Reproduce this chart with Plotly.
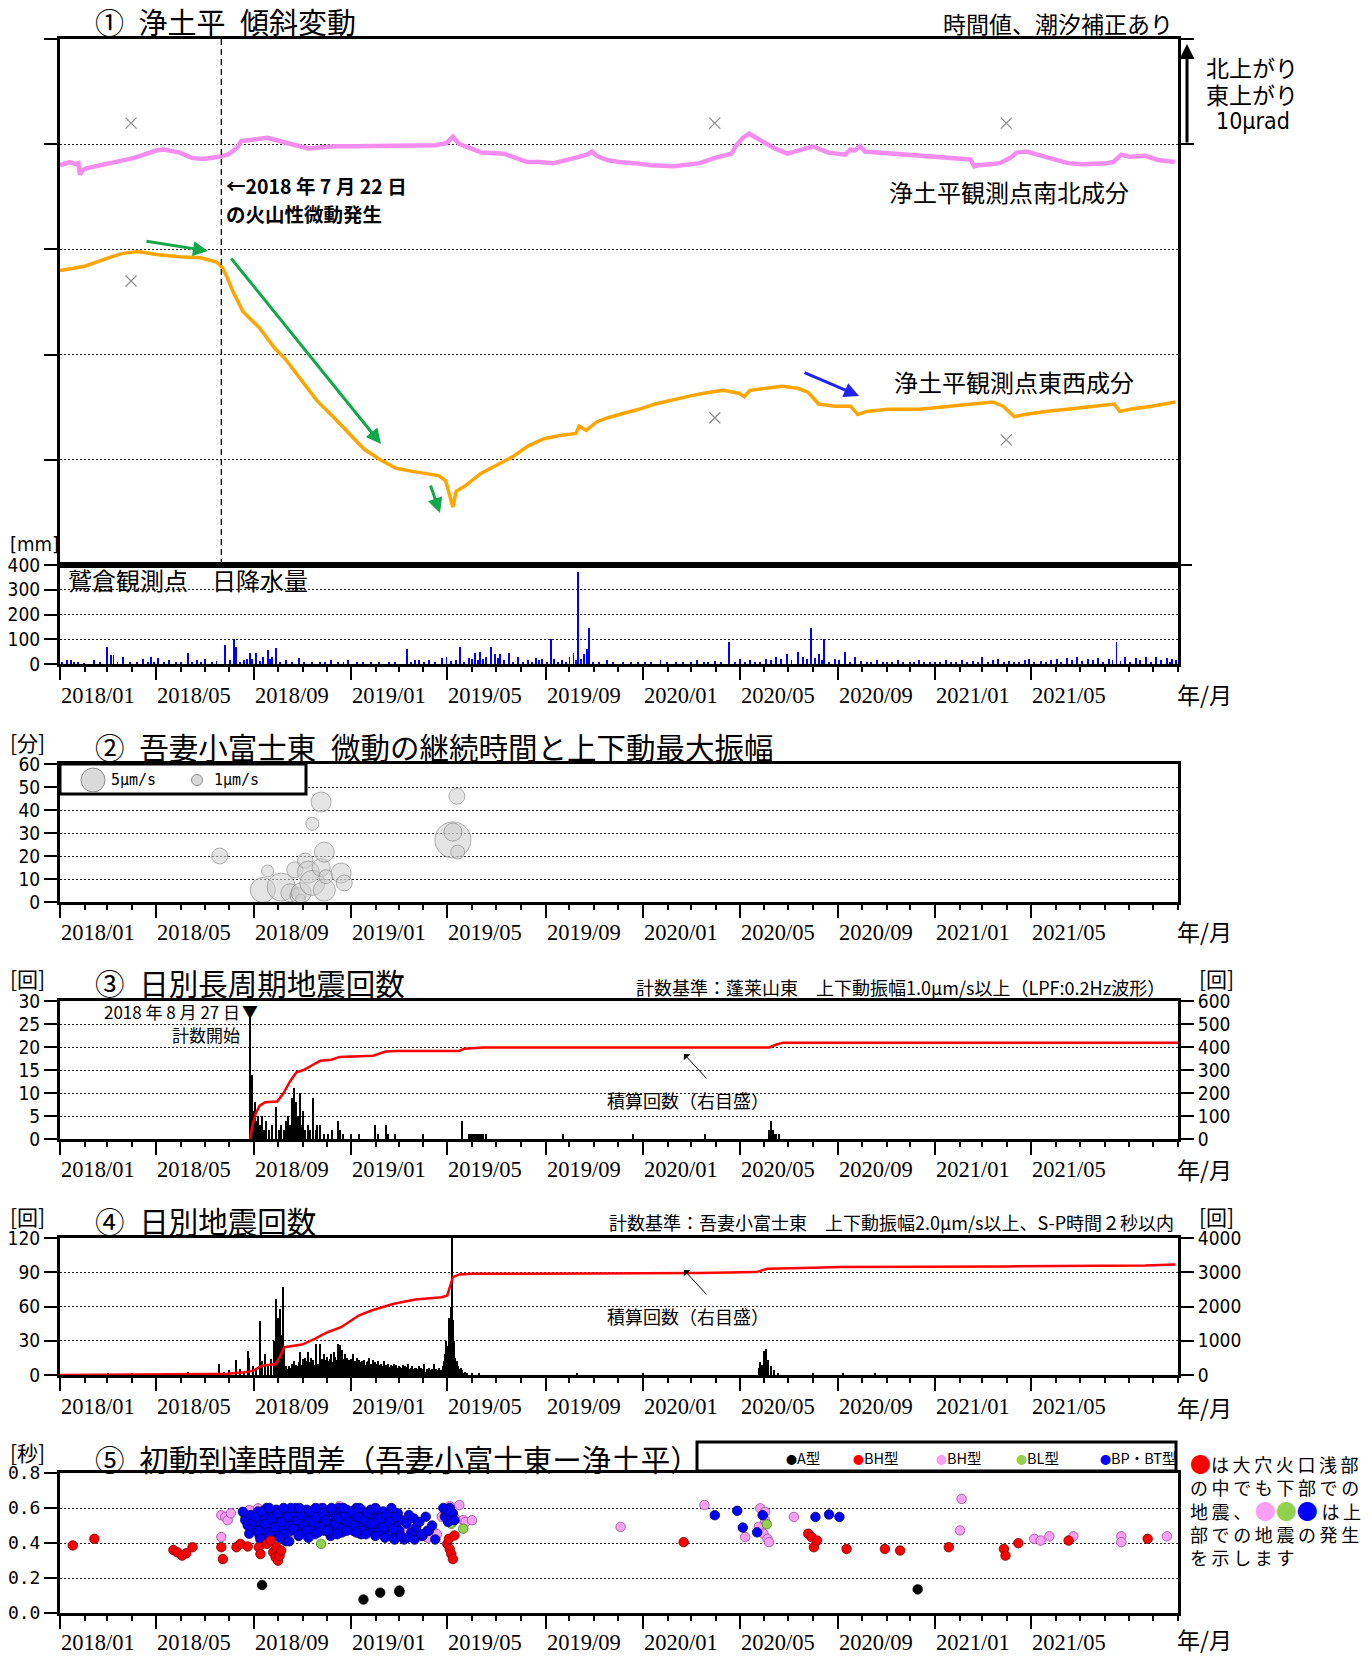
import plotly.graph_objects as go
import pandas as pd

BASE = pd.Timestamp("2018-01-01")
X_RANGE = ["2018-01-01", "2021-11-01"]
TICK_DATES = ["2018-01-01", "2018-05-01", "2018-09-01", "2019-01-01", "2019-05-01", "2019-09-01",
              "2020-01-01", "2020-05-01", "2020-09-01", "2021-01-01", "2021-05-01", "2021-09-01"]
TICK_TEXT = ["2018/01", "2018/05", "2018/09", "2019/01", "2019/05", "2019/09",
             "2020/01", "2020/05", "2020/09", "2021/01", "2021/05", ""]

# ---------------- data (x = days since 2018-01-01) ----------------
# (1) tilt, microradian on a 0-50 display scale
ns_pts = [(0,38.0),(12,38.3),(20,38.1),(23,38.2),(25,37.1),(28,37.5),(33,37.7),(45,37.9),(55,38.1),(65,38.2),
          (80,38.5),(93,38.7),(105,39.0),(120,39.4),(130,39.5),(143,39.3),(150,39.2),(165,38.7),(180,38.6),
          (199,38.8),(210,39.0),(216,39.3),(222,39.7),(227,40.3),(240,40.4),(250,40.5),(260,40.6),(270,40.4),
          (283,40.1),(290,40.0),(300,39.8),(311,39.6),(325,39.7),(344,39.8),(370,39.8),(400,39.8),(430,39.8),
          (456,39.8),(470,39.9),(484,40.1),(492,40.7),(500,40.0),(512,39.7),(528,39.2),(556,39.1),(570,38.7),
          (585,38.3),(600,38.3),(618,38.2),(640,38.6),(652,38.8),(660,39.0),(666,39.3),(672,38.9),(685,38.5),
          (700,38.3),(719,38.2),(740,38.0),(769,37.9),(785,38.1),(801,38.2),(820,38.7),(841,39.1),(846,39.8),
          (855,40.6),(863,41.0),(872,40.6),(882,40.1),(895,39.6),(911,39.1),(925,39.4),(943,39.8),(952,39.5),
          (962,39.2),(983,39.0),(990,39.5),(995,39.4),(1002,39.8),(1008,39.3),(1025,39.2),(1043,39.1),
          (1070,38.9),(1096,38.75),(1120,38.6),(1140,38.55),(1145,37.9),(1150,38.0),(1165,38.1),(1177,38.2),
          (1190,38.7),(1198,39.2),(1210,39.3),(1225,39.0),(1245,38.6),(1262,38.2),(1280,38.1),(1295,38.1),
          (1310,38.2),(1319,38.3),(1329,39.0),(1340,38.8),(1350,38.8),(1359,38.9),(1375,38.5),(1385,38.4),
          (1396,38.3)]
ew_pts = [(0,28.0),(31,28.4),(57,29.1),(77,29.6),(97,29.8),(123,29.5),(150,29.3),(176,29.2),(196,28.8),
          (203,28.3),(209,27.4),(216,26.1),(229,24.1),(249,22.6),(269,20.6),(282,19.6),(302,17.6),(322,15.6),
          (342,14.1),(361,12.6),(381,11.0),(401,10.0),(421,9.2),(441,8.9),(461,8.7),(474,8.5),(483,8.0),
          (488,6.5),(492,5.5),(496,7.0),(507,7.5),(527,8.7),(547,9.5),(567,10.3),(586,11.3),(606,12.0),
          (626,12.3),(646,12.5),(650,13.2),(659,12.8),(672,13.6),(686,14.0),(705,14.4),(725,14.8),(745,15.3),
          (771,15.8),(791,16.1),(811,16.4),(831,16.6),(851,16.3),(857,16.0),(864,16.6),(884,16.8),(904,17.0),
          (924,16.8),(937,16.4),(950,15.3),(970,15.1),(990,15.1),(999,14.3),(1010,14.6),(1036,14.8),
          (1076,14.8),(1115,15.1),(1142,15.3),(1168,15.5),(1181,15.1),(1195,14.1),(1208,14.3),(1234,14.6),
          (1261,14.8),(1300,15.1),(1320,15.3),(1327,14.6),(1340,14.8),(1367,15.1),(1397,15.5)]
gap_marks = [(89,42.0),(89,27.0),(820,42.0),(820,14.0),(1185,42.0),(1185,11.9)]

# daily precipitation [mm]
rain = [(3,8),(9,15),(14,15),(18,5),(23,10),(30,4),(42,15),(50,6),(59,70),(64,35),(67,38),(72,8),(79,30),
        (88,5),(96,10),(104,20),(110,8),(114,30),(118,10),(123,25),(130,6),(137,15),(145,5),(152,8),(160,45),
        (165,10),(171,15),(176,6),(182,20),(190,8),(196,12),(207,75),(213,15),(218,100),(220,70),(225,10),
        (230,15),(234,20),(238,45),(241,20),(246,45),(250,12),(254,30),(260,55),(263,20),(266,30),(271,65),
        (276,10),(283,15),(290,6),(299,25),(305,8),(316,10),(325,6),(332,10),(339,15),(348,8),(355,10),
        (361,15),(372,6),(380,8),(390,5),(400,10),(412,6),(420,8),(434,60),(440,10),(445,15),(450,15),
        (456,8),(462,15),(470,10),(478,25),(484,30),(490,12),(496,15),(501,70),(506,10),(512,25),(516,20),
        (520,45),(523,15),(526,50),(530,20),(534,30),(540,70),(545,40),(548,25),(551,40),(556,15),(562,45),
        (567,10),(573,30),(580,8),(586,15),(591,10),(596,25),(600,15),(604,20),(610,10),(615,100),(619,20),
        (624,8),(629,15),(634,10),(638,30),(643,45),(646,15),(649,370),(653,20),(656,40),(660,60),(662,145),
        (668,10),(675,6),(685,15),(693,8),(705,10),(715,6),(724,5),(732,10),(740,8),(752,15),(760,6),
        (771,10),(780,8),(790,5),(798,15),(806,10),(812,8),(820,12),(828,6),(838,90),(845,10),(851,20),
        (858,8),(864,15),(870,10),(877,10),(884,20),(890,15),(897,30),(903,20),(910,40),(916,15),(924,50),
        (930,30),(936,20),(941,145),(946,25),(950,40),(954,15),(957,100),(963,10),(970,20),(976,15),(983,50),
        (989,10),(996,30),(1003,12),(1010,8),(1016,10),(1023,15),(1030,6),(1036,10),(1042,8),(1049,15),
        (1056,6),(1064,10),(1070,5),(1076,15),(1082,8),(1089,10),(1096,5),(1102,10),(1109,15),(1116,8),
        (1122,10),(1129,15),(1136,8),(1143,12),(1149,10),(1155,30),(1162,10),(1168,15),(1175,20),(1182,8),
        (1188,12),(1195,10),(1201,8),(1208,15),(1214,20),(1220,10),(1228,12),(1235,8),(1241,15),(1248,20),
        (1254,10),(1261,25),(1267,15),(1274,30),(1280,12),(1287,20),(1293,15),(1300,25),(1306,10),(1314,20),
        (1318,15),(1323,90),(1328,12),(1334,30),(1340,10),(1347,25),(1352,15),(1360,30),(1366,10),(1373,30),
        (1379,15),(1386,25),(1390,10),(1393,20),(1397,15)]

# (2) tremor: day, duration [min], max vertical amplitude [um/s]
tremor = [(200,20,2.1),(254,5.2,5.2),(260,13.5,1.2),(277,6.5,6.5),(288,4,2.7),(294,14,2.1),(298,2.8,2.1),
          (301,1.3,0.8),(302,4,3.3),(307,18,1.9),(311,13,4.0),(316,8.3,5.2),(316,34,1.4),(327,43.5,3.3),
          (327,15,2.7),(331,21.7,3.3),(331,5.2,4.0),(333,11,1.6),(352,12.6,3.3),(356,8.3,2.1),
          (492,27,10.7),(492,30.4,2.7),(497,46,2.1),(498,21.7,1.6)]

# (3) daily long-period events and cumulative
lp_bars = [(238,28),(241,14),(242,6),(244,8),(246,4),(248,5),(250,3),(253,5),(255,2),(258,4),(262,2),(266,3),
           (271,7),(274,2),(277,3),(280,2),(283,4),(286,5),(288,3),(290,9),(292,6),(293,11),(295,4),(296,8),
           (298,5),(300,10),(302,3),(304,6),(307,2),(310,3),(313,2),(317,9),(320,2),(322,3),(326,3),(330,1),
           (335,1),(340,2),(348,4),(351,2),(355,1),(364,1),(375,1),(394,3),(398,1),(408,3),(411,1),(419,1),
           (454,1),(504,4),(512,1),(514,1),(516,1),(518,1),(520,1),(522,1),(524,1),(526,1),(528,1),(530,1),
           (534,1),(630,1),(718,1),(808,1),(888,2),(890,4),(893,2),(895,1),(897,1),(901,1)]
lp_cum = [(238,0),(241,60),(245,110),(250,145),(257,160),(272,163),(280,200),(288,250),(296,290),(305,300),
          (318,325),(326,340),(340,345),(350,357),(392,362),(408,380),(420,383),(500,383),(506,392),(530,398),
          (888,398),(898,412),(906,419),(1400,419)]

# (4) daily earthquakes and cumulative
eq_sparse = [(60,1),(90,1),(133,2),(160,3),(180,2),(199,10),(205,3),(212,4),(221,13),(225,5),(230,2),(235,21),
             (237,15),(242,8),(246,5),(251,47),(253,12),(257,18),(260,9),(264,14),(268,30),(270,20),(271,67),
             (273,50),(275,58),(277,35),(279,77),(281,24),(283,8),
             (485,25),(486,15),(487,50),(488,35),(489,45),(490,60),(491,120),(492,48),(493,30),(494,21),
             (495,15),(496,10),(497,12),(498,8),(499,6),(500,5),(501,4),(502,6),(503,3),(504,4),(505,2),
             (507,3),(510,2),(516,2),(525,1),(647,1),(730,1),(875,6),(877,11),(879,9),(881,21),(883,15),
             (884,23),(886,10),(887,13),(890,8),(894,4),(899,2),(943,1),(981,1),(1020,1)]
EQ_DENSE_START = 285
eq_dense = [3,5,8,4,6,10,7,5,12,6,4,9,5,8,11,20,7,9,6,14,
            8,10,15,6,12,20,9,7,11,15,8,10,13,6,9,27,12,8,10,7,
            12,27,9,14,11,18,8,13,10,16,9,12,7,14,18,10,8,11,20,9,
            16,13,10,27,12,9,26,15,22,11,14,8,18,12,10,15,9,13,11,8,
            14,10,18,9,11,12,7,15,10,13,8,11,9,12,6,10,13,7,9,11,
            8,12,15,7,10,6,9,13,8,11,7,10,6,12,8,9,5,10,7,8,
            6,12,7,9,5,8,10,6,7,9,4,8,6,10,5,7,9,4,6,8,
            5,7,4,6,9,3,6,8,5,4,7,10,3,5,6,4,8,5,3,6,
            4,6,3,5,8,4,2,6,3,5,4,10,3,2,5,4,3,6,2,4,
            3,5,2,10,4,3,5,2,4,3,6,2,4,3,5,8,12,18,30,22]
eq_cum = [(0,0),(144,10),(188,30),(210,40),(231,78),(242,127),(253,273),(270,322),(275,517),(281,810),
          (303,888),(319,1054),(335,1249),(352,1395),(374,1737),(390,1883),(418,2078),(445,2205),(478,2273),
          (485,2322),(492,2858),(500,2937),(516,2956),(582,2956),(801,2976),(872,3005),(886,3102),(943,3132),
          (976,3151),(1184,3171),(1359,3200),(1397,3229)]

# (5) first-motion arrival time difference [s]
a_type = [(253,0.160),(380,0.077),(401,0.116),(425,0.120),(425,0.128),(1074,0.135)]
bh_red = [(16,0.386),(43,0.424),(142,0.360),(147,0.347),(153,0.328),(158,0.341),(166,0.376),(202,0.376),
          (204,0.308),(221,0.376),(226,0.395),(235,0.380),(249,0.376),(251,0.337),(259,0.395),(264,0.414),
          (267,0.347),(270,0.318),(271,0.376),(273,0.299),(275,0.328),(277,0.357),(485,0.395),(487,0.424),
          (488,0.366),(490,0.337),(492,0.308),(494,0.443),(781,0.405),(937,0.453),(941,0.434),(944,0.376),
          (948,0.414),(985,0.366),(1033,0.366),(1052,0.357),(1113,0.376),(1182,0.366),(1184,0.328),
          (1200,0.399),(1263,0.414),(1362,0.424)]
bh_pink = [(202,0.559),(207,0.549),(202,0.434),(210,0.53),(214,0.57),(237,0.588),(242,0.53),(245,0.472),
           (248,0.598),(253,0.559),(258,0.50),(262,0.54),(266,0.48),(270,0.57),(276,0.46),(285,0.44),
           (300,0.58),(319,0.59),(326,0.60),(333,0.585),(341,0.59),(350,0.61),(362,0.58),(378,0.59),
           (390,0.56),(400,0.58),(412,0.56),(428,0.45),(436,0.47),(444,0.46),(452,0.44),(460,0.43),
           (468,0.46),(472,0.45),(478,0.55),(483,0.57),(488,0.61),(495,0.54),(500,0.617),(505,0.53),
           (508,0.52),(516,0.53),(702,0.492),(807,0.617),(858,0.434),(875,0.492),(877,0.598),(880,0.559),
           (881,0.453),(883,0.530),(883,0.578),(886,0.424),(888,0.405),(919,0.549),(1127,0.472),(1129,0.652),
           (1220,0.424),(1228,0.414),(1239,0.438),(1269,0.438),(1329,0.438),(1329,0.405),(1386,0.438)]
bl_green = [(232,0.55),(248,0.54),(253,0.49),(297,0.549),(315,0.53),(327,0.395),(346,0.56),(368,0.53),
            (490,0.51),(505,0.482),(885,0.507)]
bp_blue = [(229,0.578),(232,0.53),(235,0.50),(237,0.453),(239,0.56),(241,0.49),(243,0.52),(246,0.47),
           (248,0.58),(250,0.44),(252,0.51),(255,0.55),(257,0.48),(259,0.60),(261,0.43),(263,0.53),(265,0.57),
           (267,0.46),(269,0.50),(271,0.59),(273,0.45),(275,0.52),(277,0.56),(279,0.48),(281,0.54),(283,0.41),
           (285,0.58),(287,0.50),(289,0.47),(291,0.55),(293,0.52),(295,0.60),(297,0.49),(299,0.44),(301,0.57),
           (303,0.51),(305,0.54),(307,0.46),(309,0.59),(311,0.50),(313,0.53),(315,0.48),(317,0.56),(319,0.45),
           (321,0.58),(323,0.52),(325,0.49),(327,0.55),(329,0.60),(331,0.47),(333,0.53),(335,0.57),(337,0.50),
           (339,0.44),(341,0.58),(343,0.52),(345,0.55),(347,0.48),(349,0.60),(351,0.51),(353,0.46),(355,0.56),
           (357,0.53),(359,0.59),(361,0.49),(363,0.54),(365,0.57),(367,0.47),(369,0.52),(371,0.60),(373,0.50),
           (375,0.55),(377,0.45),(379,0.58),(381,0.53),(383,0.49),(385,0.56),(387,0.51),(389,0.59),(391,0.47),
           (393,0.54),(395,0.52),(397,0.57),(399,0.48),(401,0.55),(403,0.50),(405,0.58),(407,0.45),(409,0.53),
           (411,0.56),(413,0.49),(415,0.52),(417,0.43),(419,0.55),(421,0.50),(423,0.57),(425,0.47),(428,0.53),
           (431,0.42),(434,0.51),(437,0.56),(440,0.46),(443,0.54),(446,0.49),(450,0.52),(454,0.44),(458,0.55),
           (462,0.47),(466,0.50),(470,0.42),(482,0.55),(484,0.58),(486,0.52),(488,0.60),(490,0.54),(492,0.57),
           (494,0.53),
           (245,0.55),(249,0.47),(253,0.58),(257,0.51),(261,0.46),(265,0.54),(269,0.49),(273,0.57),(277,0.52),
           (281,0.45),(285,0.55),(289,0.60),(293,0.48),(297,0.53),(301,0.56),(305,0.50),(309,0.47),(313,0.58),
           (317,0.52),(321,0.55),(325,0.49),(329,0.57),(333,0.53),(337,0.46),(341,0.59),(345,0.51),(349,0.54),
           (353,0.48),(357,0.56),(361,0.52),(365,0.58),(369,0.50),(373,0.55),(377,0.47),(381,0.53),(385,0.57),
           (389,0.51),(393,0.59),(397,0.46),(401,0.54),(405,0.49),(409,0.56),(413,0.52),(417,0.48),(421,0.55),
           (251,0.42),(263,0.44),(275,0.43),(287,0.41),(299,0.445),(311,0.43),(323,0.46),(335,0.47),(347,0.45),
           (359,0.47),(371,0.46),(383,0.45),(395,0.44),(407,0.43),(419,0.42),(427,0.44),(435,0.43),(444,0.42),
           (452,0.45),(460,0.47),(262,0.60),(280,0.60),(300,0.60),(320,0.60),(340,0.60),(355,0.60),(375,0.60),
           (395,0.60),(415,0.60),(480,0.60),(485,0.59),(489,0.58),
           (820,0.559),(848,0.584),(855,0.488),(873,0.461),(880,0.559),(946,0.549),(963,0.563),(976,0.549)]

# ---------------- helpers ----------------
# Full-window figure; the page's default body margin is removed by the post script.
W, H = 1371, 1656
ML, MT = 60, 39
MR = W - 1178
MB = H - 1613
PW, PH = W - ML - MR, H - MT - MB
CJK = "Noto Sans CJK JP"


def to_dates(days):
    return [BASE + pd.Timedelta(days=float(d)) for d in days]


def unzip(pts):
    a, b = zip(*pts)
    return to_dates(a), list(b)


def px(x):  # page pixel -> paper fraction
    return (x - ML) / PW


def py(y):
    return (H - MB - y) / PH


fig = go.Figure()

# panel 1
x, y = unzip(ns_pts)
fig.add_trace(go.Scatter(x=x, y=y, mode="lines", line=dict(color="#F58CF0", width=4.5), xaxis="x", yaxis="y"))
x, y = unzip(ew_pts)
fig.add_trace(go.Scatter(x=x, y=y, mode="lines", line=dict(color="#FFA500", width=3.5), xaxis="x", yaxis="y"))
x, y = unzip(gap_marks)
fig.add_trace(go.Scatter(x=x, y=y, mode="markers", marker=dict(symbol="x-thin-open", size=11, color="#8c8c8c",
                         line=dict(color="#8c8c8c", width=1.2)), xaxis="x", yaxis="y"))
x, y = unzip(rain)
fig.add_trace(go.Bar(x=x, y=y, width=86400000 * 1.2, marker=dict(color="#0000FF", line=dict(width=0)),
                     xaxis="x2", yaxis="y2"))

# panel 2
td, tdur, tamp = zip(*tremor)
fig.add_trace(go.Scatter(x=to_dates(td), y=list(tdur), mode="markers",
                         marker=dict(size=list(tamp), sizemode="area", sizeref=2 / 121,
                                     color="rgba(205,205,205,0.75)", line=dict(color="#8a8a8a", width=1)),
                         xaxis="x3", yaxis="y3"))

# panel 3
x, y = unzip(lp_bars)
fig.add_trace(go.Bar(x=x, y=y, width=86400000 * 1.3, marker=dict(color="black", line=dict(width=0)),
                     xaxis="x4", yaxis="y4"))
x, y = unzip(lp_cum)
fig.add_trace(go.Scatter(x=x, y=y, mode="lines", line=dict(color="#FF0000", width=2.5), xaxis="x4", yaxis="y5"))

# panel 4
x, y = unzip(eq_sparse)
fig.add_trace(go.Bar(x=x, y=y, width=86400000 * 1.3, marker=dict(color="black", line=dict(width=0)),
                     xaxis="x5", yaxis="y6"))
fig.add_trace(go.Bar(x=to_dates(range(EQ_DENSE_START, EQ_DENSE_START + len(eq_dense))), y=eq_dense,
                     width=86400000 * 1.3, marker=dict(color="black", line=dict(width=0)),
                     xaxis="x5", yaxis="y6"))
x, y = unzip(eq_cum)
fig.add_trace(go.Scatter(x=x, y=y, mode="lines", line=dict(color="#FF0000", width=2.5), xaxis="x5", yaxis="y7"))

# panel 5
for pts, col, lc in [(bh_pink, "#F7A0F5", "#9a4a9a"), (bl_green, "#92D050", "#4a7a2a"),
                     (bp_blue, "#0000FF", "#00006a"), (bh_red, "#FF0000", "#7a0000"),
                     (a_type, "#000000", "#000000")]:
    x, y = unzip(pts)
    fig.add_trace(go.Scatter(x=x, y=y, mode="markers",
                             marker=dict(size=9.5, color=col, line=dict(color=lc, width=0.8)),
                             xaxis="x6", yaxis="y8"))

# ---------------- axes ----------------
GRID = dict(showgrid=True, gridcolor="#222", griddash="2px,2px", gridwidth=1)
YFONT = dict(family="DejaVu Sans Condensed, DejaVu Sans", size=19, color="black")


def xax(anchor, ticks=True):
    d = dict(type="date", range=X_RANGE, anchor=anchor, domain=[0, 1], showline=True, linewidth=3,
             linecolor="black", mirror=True, showgrid=False, zeroline=False, tickmode="array",
             tickvals=TICK_DATES, ticktext=TICK_TEXT, ticks="outside" if ticks else "", ticklen=13,
             tickwidth=2, tickcolor="black", showticklabels=False, automargin=False)
    if ticks:
        d["minor"] = dict(tickmode="linear", tick0="2018-01-01", dtick="M1", ticks="outside", ticklen=5,
                          tickwidth=2, tickcolor="black", showgrid=False)
    return d


def yax(top, bottom, rng, dtick, anchor, labels=True, grid=True, side="left", overlaying=None,
        font=YFONT, fmt=None):
    d = dict(domain=[py(bottom), py(top)], range=rng, dtick=dtick, tick0=0, anchor=anchor, side=side,
             showline=True, linewidth=3, linecolor="black", mirror=(overlaying is None), zeroline=False,
             ticks="outside", ticklen=13, tickwidth=2, tickcolor="black", showticklabels=labels,
             tickfont=font, fixedrange=True, automargin=False)
    if grid:
        d.update(GRID)
    else:
        d["showgrid"] = False
    if overlaying:
        d["overlaying"] = overlaying
    if fmt:
        d["tickformat"] = fmt
    return d


layout = dict(
    width=W, height=H, margin=dict(l=ML, r=MR, t=MT, b=MB, autoexpand=False), paper_bgcolor="white",
    plot_bgcolor="white", showlegend=False, bargap=0, barmode="overlay",
    xaxis=xax("y", ticks=False), xaxis2=xax("y2"), xaxis3=xax("y3"), xaxis4=xax("y4"),
    xaxis5=xax("y6"), xaxis6=xax("y8"),
    yaxis=yax(39, 565, [0, 50], 10, "x", labels=False),
    yaxis2=yax(565, 664, [0, 400], 100, "x2"),
    yaxis3=yax(764, 902, [0, 60], 10, "x3"),
    yaxis4=yax(1001, 1139, [0, 30], 5, "x4"),
    yaxis5=yax(1001, 1139, [0, 600], 100, "x4", grid=False, side="right", overlaying="y4"),
    yaxis6=yax(1238, 1375, [0, 120], 30, "x5"),
    yaxis7=yax(1238, 1375, [0, 4000], 1000, "x5", grid=False, side="right", overlaying="y6"),
    yaxis8=yax(1473, 1613, [0, 0.8], 0.2, "x6", fmt=".1f",
               font=dict(family="DejaVu Sans Mono", size=18, color="black")),
)
fig.update_layout(**layout)

# ---------------- annotations ----------------
anns = []


def txt(t, x, y, size, xanchor="left", family=CJK, color="black", yanchor="middle"):
    anns.append(dict(text=t, x=px(x), y=py(y), xref="paper", yref="paper", showarrow=False,
                     xanchor=xanchor, yanchor=yanchor, font=dict(family=family, size=size, color=color)))


# date tick labels, left-aligned at their major tick (one row under each labelled axis)
for xref, label_y in [("x2", 695), ("x3", 932), ("x4", 1169), ("x5", 1406), ("x6", 1642)]:
    for dte, lab in zip(TICK_DATES, TICK_TEXT):
        if lab:
            anns.append(dict(text=lab, x=dte, xref=xref, y=py(label_y), yref="paper", showarrow=False,
                             xanchor="left", yanchor="middle", xshift=-1,
                             font=dict(family="Liberation Serif", size=22.5, color="black")))

SP = "\u2002"
txt("①" + SP + "浄土平" + SP + "傾斜変動", 93, 21, 29)
txt("時間値、潮汐補正あり", 1175, 23, 23, xanchor="right")
txt("北上がり", 1204, 67, 23)
txt("東上がり", 1204, 94, 23)
txt("10μrad", 1214, 121, 23, family="DejaVu Sans Condensed")
txt("<b>←2018 年 7 月 22 日</b>", 224, 186, 19.5)
txt("<b>の火山性微動発生</b>", 224, 213, 19.5)
txt("浄土平観測点南北成分", 1009, 192, 24, xanchor="center")
txt("浄土平観測点東西成分", 1014, 382, 24, xanchor="center")
txt("[mm]", 8, 544, 20, family="DejaVu Sans Condensed")
txt("鷲倉観測点\u3000日降水量", 66, 579, 24)
for yy in (694, 931, 1169, 1407, 1639):
    txt("年/月", 1175, yy, 23)

txt("[分]", 8, 742, 21)
txt("②" + SP + "吾妻小富士東" + SP + "微動の継続時間と上下動最大振幅", 93, 746, 29.5)
txt("5μm/s", 109, 780, 15, family="DejaVu Sans Mono")
txt("1μm/s", 212, 780, 15, family="DejaVu Sans Mono")

txt("[回]", 8, 978, 21)
txt("[回]", 1197, 978, 21)
txt("③" + SP + "日別長周期地震回数", 93, 982, 29.5)
txt("計数基準：蓬莱山東\u3000上下動振幅1.0μm/s以上（LPF:0.2Hz波形）", 1167, 987, 18, xanchor="right")
txt("2018 年 8 月 27 日", 242, 1011, 17, xanchor="right")
txt("計数開始", 242, 1034, 17, xanchor="right")
txt("▼", 250, 1011, 16, xanchor="center")
txt("積算回数（右目盛）", 688, 1100, 18, xanchor="center")

txt("[回]", 8, 1216, 21)
txt("[回]", 1197, 1216, 21)
txt("④" + SP + "日別地震回数", 93, 1220, 29.5)
txt("計数基準：吾妻小富士東\u3000上下動振幅2.0μm/s以上、S-P時間２秒以内", 1176, 1222, 18, xanchor="right")
txt("積算回数（右目盛）", 688, 1316, 18, xanchor="center")

txt("[秒]", 8, 1452, 21)
txt("⑤" + SP + "初動到達時間差（吾妻小富士東ー浄土平）", 93, 1458, 29.5)
legend5 = [("#000000", "A型", 784), ("#FF0000", "BH型", 851), ("#F7A0F5", "BH型", 934),
           ("#92D050", "BL型", 1014), ("#0000FF", "BP・BT型", 1098)]
for col, lab, lx in legend5:
    txt('<span style="color:%s;font-size:11px">●</span>%s' % (col, lab), lx, 1457, 14.5)

TS = "\u2009"
side5 = ['<span style="color:#FF0000;font-size:21px">●</span>' + TS.join("は大穴火口浅部"),
         TS.join("の中でも下部での"),
         TS.join("地震、") + TS + '<span style="color:#F7A0F5;font-size:21px">●</span>'
         '<span style="color:#92D050;font-size:21px">●</span>'
         '<span style="color:#0000FF;font-size:21px">●</span>' + TS + TS.join("は上"),
         TS.join("部での地震の発生"),
         TS.join("を示します")]
for i, line in enumerate(side5):
    txt(line, 1188, 1463 + i * 23.5, 18)


def arrow(x0, y0, x1, y1, color, width, head=2, size=1.0):
    anns.append(dict(x=px(x1), y=py(y1), ax=x0 - x1, ay=y0 - y1, xref="paper", yref="paper",
                     axref="pixel", ayref="pixel", text="", showarrow=True, arrowhead=head,
                     arrowsize=size, arrowwidth=width, arrowcolor=color))


arrow(145, 241, 208, 251, "#12A84A", 3)
arrow(230, 257, 381, 444, "#12A84A", 3)
arrow(430, 484, 440, 513, "#12A84A", 3)
arrow(803, 372, 859, 396, "#2222FF", 3)
arrow(1187, 144, 1187, 44, "black", 3, head=2, size=1.0)
arrow(708, 1080, 684, 1054, "black", 1, head=1, size=1.5)
arrow(708, 1296, 684, 1270, "black", 1, head=1, size=1.5)

fig.update_layout(annotations=anns)

# ---------------- shapes ----------------
shapes = [
    dict(type="line", xref="x", yref="paper", x0=BASE + pd.Timedelta(days=202), x1=BASE + pd.Timedelta(days=202),
         y0=py(565), y1=py(39), line=dict(color="black", width=1.3, dash="6px,4px")),
    dict(type="line", xref="paper", yref="paper", x0=px(1178), x1=px(1194), y0=py(39), y1=py(39),
         line=dict(color="black", width=2)),
    dict(type="line", xref="paper", yref="paper", x0=px(1178), x1=px(1194), y0=py(144), y1=py(144),
         line=dict(color="black", width=2)),
    dict(type="line", xref="paper", yref="paper", x0=px(1178), x1=px(1192), y0=py(565), y1=py(565),
         line=dict(color="black", width=2)),
    dict(type="rect", xref="paper", yref="paper", x0=px(60), x1=px(306), y0=py(794), y1=py(764),
         line=dict(color="black", width=3), fillcolor="white"),
    dict(type="circle", xref="paper", yref="paper", xsizemode="pixel", ysizemode="pixel",
         xanchor=px(93), yanchor=py(780), x0=-12, x1=12, y0=-12, y1=12,
         fillcolor="rgba(205,205,205,0.75)", line=dict(color="#8a8a8a", width=1)),
    dict(type="circle", xref="paper", yref="paper", xsizemode="pixel", ysizemode="pixel",
         xanchor=px(197), yanchor=py(780), x0=-5.5, x1=5.5, y0=-5.5, y1=5.5,
         fillcolor="rgba(205,205,205,0.75)", line=dict(color="#8a8a8a", width=1)),
    dict(type="rect", xref="paper", yref="paper", x0=px(697), x1=px(1176), y0=py(1471), y1=py(1442),
         line=dict(color="black", width=3), fillcolor="white"),
]
fig.update_layout(shapes=shapes)

fig.write_html("out.html", config={"displayModeBar": False},
               post_script="document.body.style.margin='0';document.body.style.overflow='hidden';")
